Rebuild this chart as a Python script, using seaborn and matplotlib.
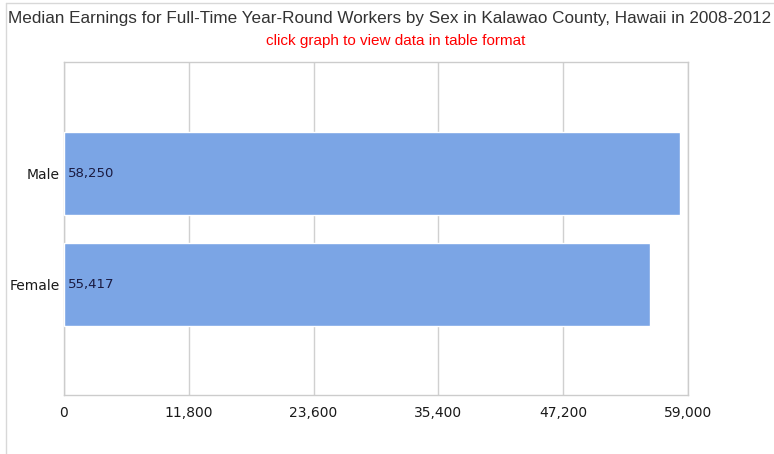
import matplotlib
matplotlib.use("Agg")
import matplotlib.pyplot as plt
import seaborn as sns
import pandas as pd
from matplotlib.lines import Line2D

# data
categories = ["Male", "Female"]
earnings = [58250, 55417]
xticks = [0, 11800, 23600, 35400, 47200, 59000]

df = pd.DataFrame({"Sex": categories, "Earnings": earnings})

sns.set_style("white")
plt.rcParams["font.family"] = ["DejaVu Sans"]

fig = plt.figure(figsize=(7.74, 4.54), dpi=100)
ax = fig.add_axes([64 / 774, 1 - 395 / 454, 624 / 774, 333 / 454])

sns.barplot(data=df, x="Earnings", y="Sex", color="#7BA5E5", saturation=1,
            width=0.75, ax=ax, zorder=3)

ax.set_xlim(0, 59000)
ax.set_ylim(1.995, -1.005)
ax.set_xticks(xticks)
ax.set_xticklabels([f"{v:,}" for v in xticks], fontsize=10, color="#1a1a1a")
ax.tick_params(axis="both", length=0)
ax.tick_params(axis="x", pad=8)
ax.tick_params(axis="y", pad=3, labelsize=10, labelcolor="#1a1a1a")
ax.set_xlabel("")
ax.set_ylabel("")
ax.grid(axis="x", color="#d0d0d0", linewidth=1, zorder=0)
for s in ax.spines.values():
    s.set_color("#cccccc")
    s.set_linewidth(1)

for i, v in enumerate(earnings):
    ax.text(380, i, f"{v:,}", va="center", ha="left", fontsize=9.5,
            color="#1a1a40", zorder=4)

fig.text(390 / 774, 1 - 18 / 454, "Median Earnings for Full-Time Year-Round Workers by Sex in Kalawao County, Hawaii in 2008-2012",
         ha="center", va="center", fontsize=12.3, family="Liberation Sans", color="#333333")
fig.text(396 / 774, 1 - 41 / 454, "click graph to view data in table format",
         ha="center", va="center", fontsize=11, family="Liberation Sans", color="#ff0000")

# page border lines
fig.add_artist(Line2D([6 / 774, 1], [1 - 3 / 454, 1 - 3 / 454], color="#d8d8d8", lw=1))
fig.add_artist(Line2D([6 / 774, 6 / 774], [0, 1 - 3 / 454], color="#d8d8d8", lw=1))

fig.savefig("out.png", dpi=100)
